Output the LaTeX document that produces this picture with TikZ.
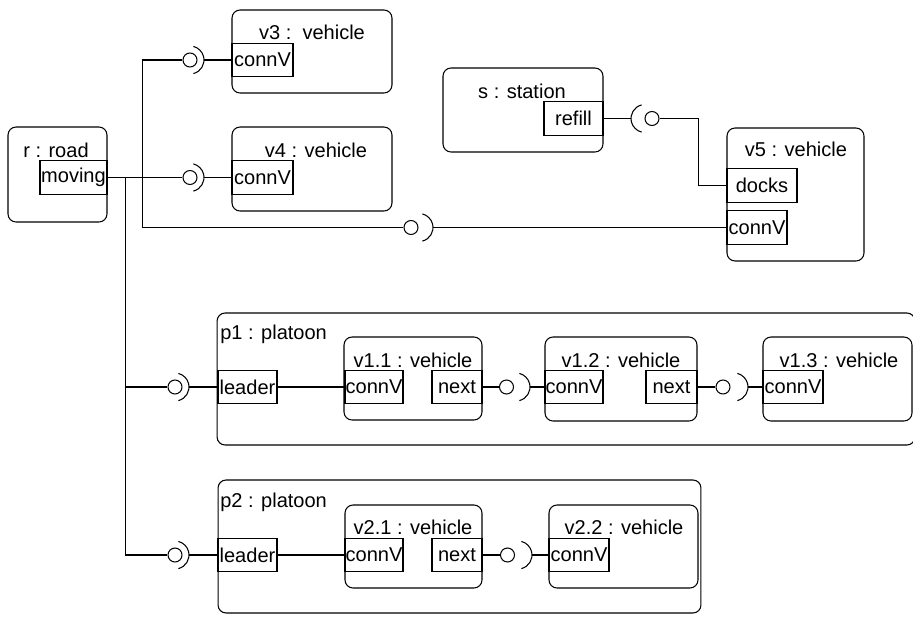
\documentclass[tikz,border=0pt]{standalone}
\usepackage{fontspec}
\setmainfont{Liberation Sans}
\tikzset{
  part/.style={draw, rounded corners=.16cm, line width=.6pt, inner sep=0},
  port/.style={draw, fill=white, line width=.6pt, inner sep=0, minimum height=.67cm},
  ball/.style={draw, circle, fill=white, line width=.6pt, inner sep=0, minimum size=.28cm},
  wire/.style={line width=.6pt},
  title/.style={inner sep=0}
}
\newcommand\sockr[3]{%
  \draw[wire] (#1.center) ++(#3, 0) ++(-76:14) arc[start angle=-76, end angle=76, radius=14];
  \path (#1.center) ++(#3+14, 0) coordinate (#2);}
\newcommand\sockl[3]{%
  \draw[wire] (#1.center) ++(-#3, 0) ++(104:14) arc[start angle=104, end angle=256, radius=14];
  \path (#1.center) ++(-#3-14, 0) coordinate (#2);}

\begin{document}
\begin{tikzpicture}[x=.02cm, y=.02cm, font=\fontsize{11.4}{13.7}\selectfont]
  \useasboundingbox (0, 0) rectangle (913, -616);
  \clip (0, 0) rectangle (913, -616);

  \node[part, minimum width=1.98cm, minimum height=1.9cm] at (57.5, -174.5) (road) {};
  \node[title] at (56, -150) (roadname) {r : road};
  \node[port, minimum width=1.34cm] at (73.5, -177.5) (moving) {moving};

  \node[part, minimum width=3.2cm, minimum height=1.66cm] at (312, -51.5) (v3) {};
  \node[title] at (312, -32) (v3name) {v3 :\ \ vehicle};
  \node[port, minimum width=1.22cm] at (262.5, -60) (v3conn) {connV};

  \node[part, minimum width=3.2cm, minimum height=1.68cm] at (312, -169) (v4) {};
  \node[title] at (316, -150) (v4name) {v4 : vehicle};
  \node[port, minimum width=1.22cm] at (262.5, -177.5) (v4conn) {connV};

  \node[part, minimum width=3.2cm, minimum height=1.68cm] at (523, -110) (st) {};
  \node[title] at (522, -91) (stname) {s : station};
  \node[port, minimum width=1.18cm] at (573.5, -118.5) (refill) {refill};

  \node[part, minimum width=2.74cm, minimum height=2.66cm] at (795.5, -194.5) (v5) {};
  \node[title] at (796, -149) (v5name) {v5 : vehicle};
  \node[port, minimum width=1.4cm] at (762, -185.5) (docks) {docks};
  \node[port, minimum width=1.2cm] at (757, -227.5) (v5conn) {connV};

  \node[part, minimum width=13.96cm, minimum height=2.64cm] at (566, -379) (p1) {};
  \node[title, anchor=west] at (220, -334) (p1name) {p1 : platoon};
  \node[port, minimum width=1.18cm] at (247.5, -387) (lead1) {leader};

  \node[part, minimum width=2.76cm, minimum height=1.66cm] at (413, -378.5) (v11) {};
  \node[title] at (413, -360) (v11name) {v1.1 : vehicle};
  \node[port, minimum width=1.16cm] at (374, -387) (v11conn) {connV};
  \node[port, minimum width=1cm] at (457, -387) (v11next) {next};

  \node[part, minimum width=3.04cm, minimum height=1.68cm] at (621, -379) (v12) {};
  \node[title] at (621, -360) (v12name) {v1.2 : vehicle};
  \node[port, minimum width=1.16cm] at (574, -387) (v12conn) {connV};
  \node[port, minimum width=1.02cm] at (671.5, -387) (v12next) {next};

  \node[part, minimum width=2.98cm, minimum height=1.68cm] at (837.5, -379) (v13) {};
  \node[title] at (839, -360) (v13name) {v1.3 : vehicle};
  \node[port, minimum width=1.2cm] at (793, -387) (v13conn) {connV};

  \node[part, minimum width=9.66cm, minimum height=2.66cm] at (459.5, -546.5) (p2) {};
  \node[title, anchor=west] at (220, -502) (p2name) {p2 : platoon};
  \node[port, minimum width=1.18cm] at (247.5, -555) (lead2) {leader};

  \node[part, minimum width=2.74cm, minimum height=1.66cm] at (413.5, -546.5) (v21) {};
  \node[title] at (413, -527) (v21name) {v2.1 : vehicle};
  \node[port, minimum width=1.16cm] at (374, -555) (v21conn) {connV};
  \node[port, minimum width=1cm] at (457, -555) (v21next) {next};

  \node[part, minimum width=2.98cm, minimum height=1.66cm] at (623.5, -546.5) (v22) {};
  \node[title] at (624, -527) (v22name) {v2.2 : vehicle};
  \node[port, minimum width=1.2cm] at (579, -555) (v22conn) {connV};

  \node[ball] at (190, -60) (b3) {};
  \node[ball] at (190, -177.5) (b4) {};
  \node[ball] at (411, -227.5) (b5) {};
  \node[ball] at (652, -118.5) (bref) {};
  \node[ball] at (175, -387) (bp1) {};
  \node[ball] at (175, -555) (bp2) {};
  \node[ball] at (506.5, -387) (bn11) {};
  \node[ball] at (723, -387) (bn12) {};
  \node[ball] at (507.5, -555) (bn21) {};

  \sockr{b3}{s3}{0}
  \sockr{b4}{s4}{0}
  \sockr{b5}{s5}{8}
  \sockl{bref}{sref}{7}
  \sockr{bp1}{sp1}{0}
  \sockr{bp2}{sp2}{0}
  \sockr{bn11}{sn11}{9.5}
  \sockr{bn12}{sn12}{11}
  \sockr{bn21}{sn21}{10.5}

  \draw[wire] (moving.east) -- (b4.west);
  \draw[wire] (s4) -- (v4conn.west);
  \draw[wire] (moving.east) -- ++(35, 0) |- (b3.west);
  \draw[wire] (s3) -- (v3conn.west);
  \draw[wire] (moving.east) -- ++(35, 0) |- (b5.west);
  \draw[wire] (s5) -- (v5conn.west);
  \draw[wire] (moving.east) -- ++(18, 0) |- (bp1.west);
  \draw[wire] (sp1) -- (lead1.west);
  \draw[wire] (moving.east) -- ++(18, 0) |- (bp2.west);
  \draw[wire] (sp2) -- (lead2.west);

  \draw[wire] (refill.east) -- (sref);
  \draw[wire] (bref.east) -- ++(38.5, 0) |- (docks.west);

  \draw[wire] (lead1.east) -- (v11conn.west);
  \draw[wire] (v11next.east) -- (bn11.west);
  \draw[wire] (sn11) -- (v12conn.west);
  \draw[wire] (v12next.east) -- (bn12.west);
  \draw[wire] (sn12) -- (v13conn.west);

  \draw[wire] (lead2.east) -- (v21conn.west);
  \draw[wire] (v21next.east) -- (bn21.west);
  \draw[wire] (sn21) -- (v22conn.west);
\end{tikzpicture}
\end{document}
